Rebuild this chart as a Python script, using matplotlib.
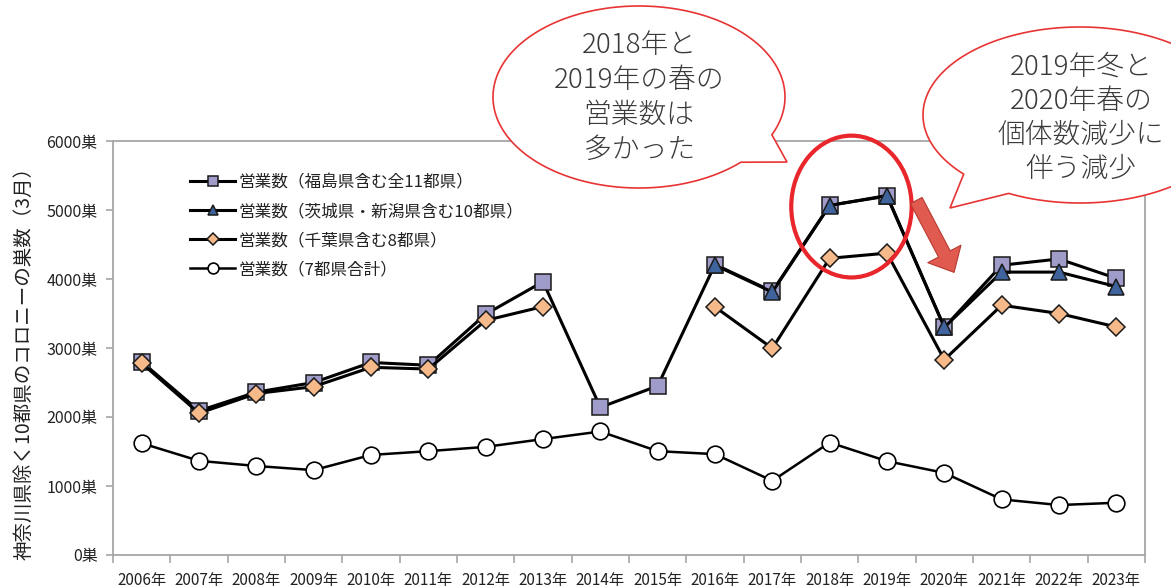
import numpy as np
import matplotlib
matplotlib.use("Agg")
import matplotlib.pyplot as plt
from matplotlib.patches import Ellipse, Polygon, FancyArrowPatch

plt.rcParams['font.family'] = ['Noto Sans CJK JP', 'DejaVu Sans']

nan = np.nan
years = ["2006年", "2007年", "2008年", "2009年", "2010年", "2011年", "2012年", "2013年", "2014年",
         "2015年", "2016年", "2017年", "2018年", "2019年", "2020年", "2021年", "2022年", "2023年"]
all11 = [2800, 2090, 2360, 2500, 2790, 2750, 3490, 3960, 2140, 2450, 4210, 3820, 5070, 5200, 3300, 4200, 4290, 4010]
ten = [nan, nan, nan, nan, nan, nan, nan, nan, nan, nan, 4200, 3810, 5065, 5210, 3300, 4100, 4100, 3890]
eight = [2780, 2055, 2340, 2440, 2720, 2695, 3400, 3600, nan, nan, 3595, 2995, 4300, 4375, 2830, 3620, 3500, 3305]
seven = [1620, 1365, 1290, 1230, 1450, 1505, 1567, 1680, 1790, 1505, 1462, 1075, 1630, 1360, 1190, 806, 724, 757]

labels = ["営業数（福島県含む全11都県）", "営業数（茨城県・新潟県含む10都県）",
          "営業数（千葉県含む8都県）", "営業数（7都県合計）"]
yticks = [0, 1000, 2000, 3000, 4000, 5000, 6000]
ylabel = "神奈川県除く10都県のコロニーの巣数（3月）"
bubble1 = ["2018年と", "2019年の春の", "営業数は", "多かった"]
bubble2 = ["2019年冬と", "2020年春の", "個体数減少に", "伴う減少"]

W, H = 1171, 588
fig = plt.figure(figsize=(W / 100, H / 100), dpi=100)
ax = fig.add_axes([113 / W, (H - 555) / H, 1032 / W, 414 / H])

x = np.arange(len(years))
lw = 2.2
l7, = ax.plot(x, seven, color='black', lw=1.8, marker='o', ms=12, mfc='white', mec='black', mew=1.2,
              zorder=3, label=labels[3])
l11, = ax.plot(x, all11, color='black', lw=lw, marker='s', ms=11, mfc='#a09cc9', mec='#1a1a1a', mew=1.1,
               zorder=4, label=labels[0])
l10, = ax.plot(x, ten, color='black', lw=lw, marker='^', ms=12, mfc='#3f639c', mec='#1a1a1a', mew=1.1,
               zorder=5, label=labels[1])
l8, = ax.plot(x, eight, color='black', lw=lw, marker='D', ms=9.2, mfc='#f6b98a', mec='#1a1a1a', mew=1.1,
              zorder=6, label=labels[2])

ax.set_xlim(-0.5, len(years) - 0.5)
ax.set_ylim(0, 6000)
ax.set_xticks(x)
ax.set_xticklabels(years, fontsize=11, color='#222222')
ax.set_xticks(np.arange(-0.5, len(years), 1.0), minor=True)
ax.tick_params(axis='x', which='major', length=0, pad=12)
ax.tick_params(axis='x', which='minor', length=6, color='#a6a6a6', width=1.2)
ax.set_yticks(yticks)
ax.set_yticklabels([f"{v}巣" for v in yticks], fontsize=11.5, color='#222222')
ax.tick_params(axis='y', length=5, color='#a6a6a6', width=1.2, pad=6)
for s in ax.spines.values():
    s.set_color('#a6a6a6')
    s.set_linewidth(1.3)

leg = ax.legend(handles=[l11, l10, l8, l7], labels=labels, loc='upper left',
                bbox_to_anchor=((190 - 113) / 1032, (555 - 174) / 414),
                frameon=False, fontsize=12, borderpad=0, borderaxespad=0, handlelength=2.7,
                handletextpad=0.2, labelspacing=0.72, markerscale=0.65)
for t in leg.get_texts():
    t.set_color('#222222')

fig.text(24 / W, 1 - 358 / H, ylabel, rotation=90, ha='center', va='center', fontsize=14, color='#222222')

# red ellipse around 2018-2019 and arrow
ax.add_patch(Ellipse((12.38, 5050), 2.1, 2055, fill=False, ec='#e8262b', lw=3.0, zorder=10, clip_on=False))
arr = FancyArrowPatch((13.51, 5137), (14.17, 4096), arrowstyle='simple,head_width=27,head_length=15,tail_width=9.5',
                      mutation_scale=1, shrinkA=0, shrinkB=0, fc='#e05a50', ec='#b83a30', lw=0.8,
                      zorder=11, clip_on=False)
ax.add_patch(arr)

# overlay for speech bubbles (pixel coords)
ov = fig.add_axes([0, 0, 1, 1], zorder=20)
ov.set_xlim(0, W)
ov.set_ylim(H, 0)
ov.axis('off')
ov.patch.set_visible(False)


def bubble(cx, cy, a, b, t1, t2, tip):
    t = np.radians(np.linspace(t2, t1 + 360, 300))
    pts = np.column_stack([cx + a * np.cos(t), cy + b * np.sin(t)])
    pts = np.vstack([pts, [tip]])
    ov.add_patch(Polygon(pts, closed=True, fc='white', ec='#e83434', lw=1.2))


bubble(639, 97, 146, 91, 24.5, 45.8, (787, 162))
bubble(1080, 115, 157, 88, 117, 137.8, (950, 208))

for i, s in enumerate(bubble1):
    ov.text(639, 45 + i * 35, s, ha='center', va='center', fontsize=20, color='#3a3a3a', fontweight='light')
for i, s in enumerate(bubble2):
    ov.text(1081, 67 + i * 34, s, ha='center', va='center', fontsize=20, color='#3a3a3a', fontweight='light')

fig.savefig('out.png', dpi=100)
